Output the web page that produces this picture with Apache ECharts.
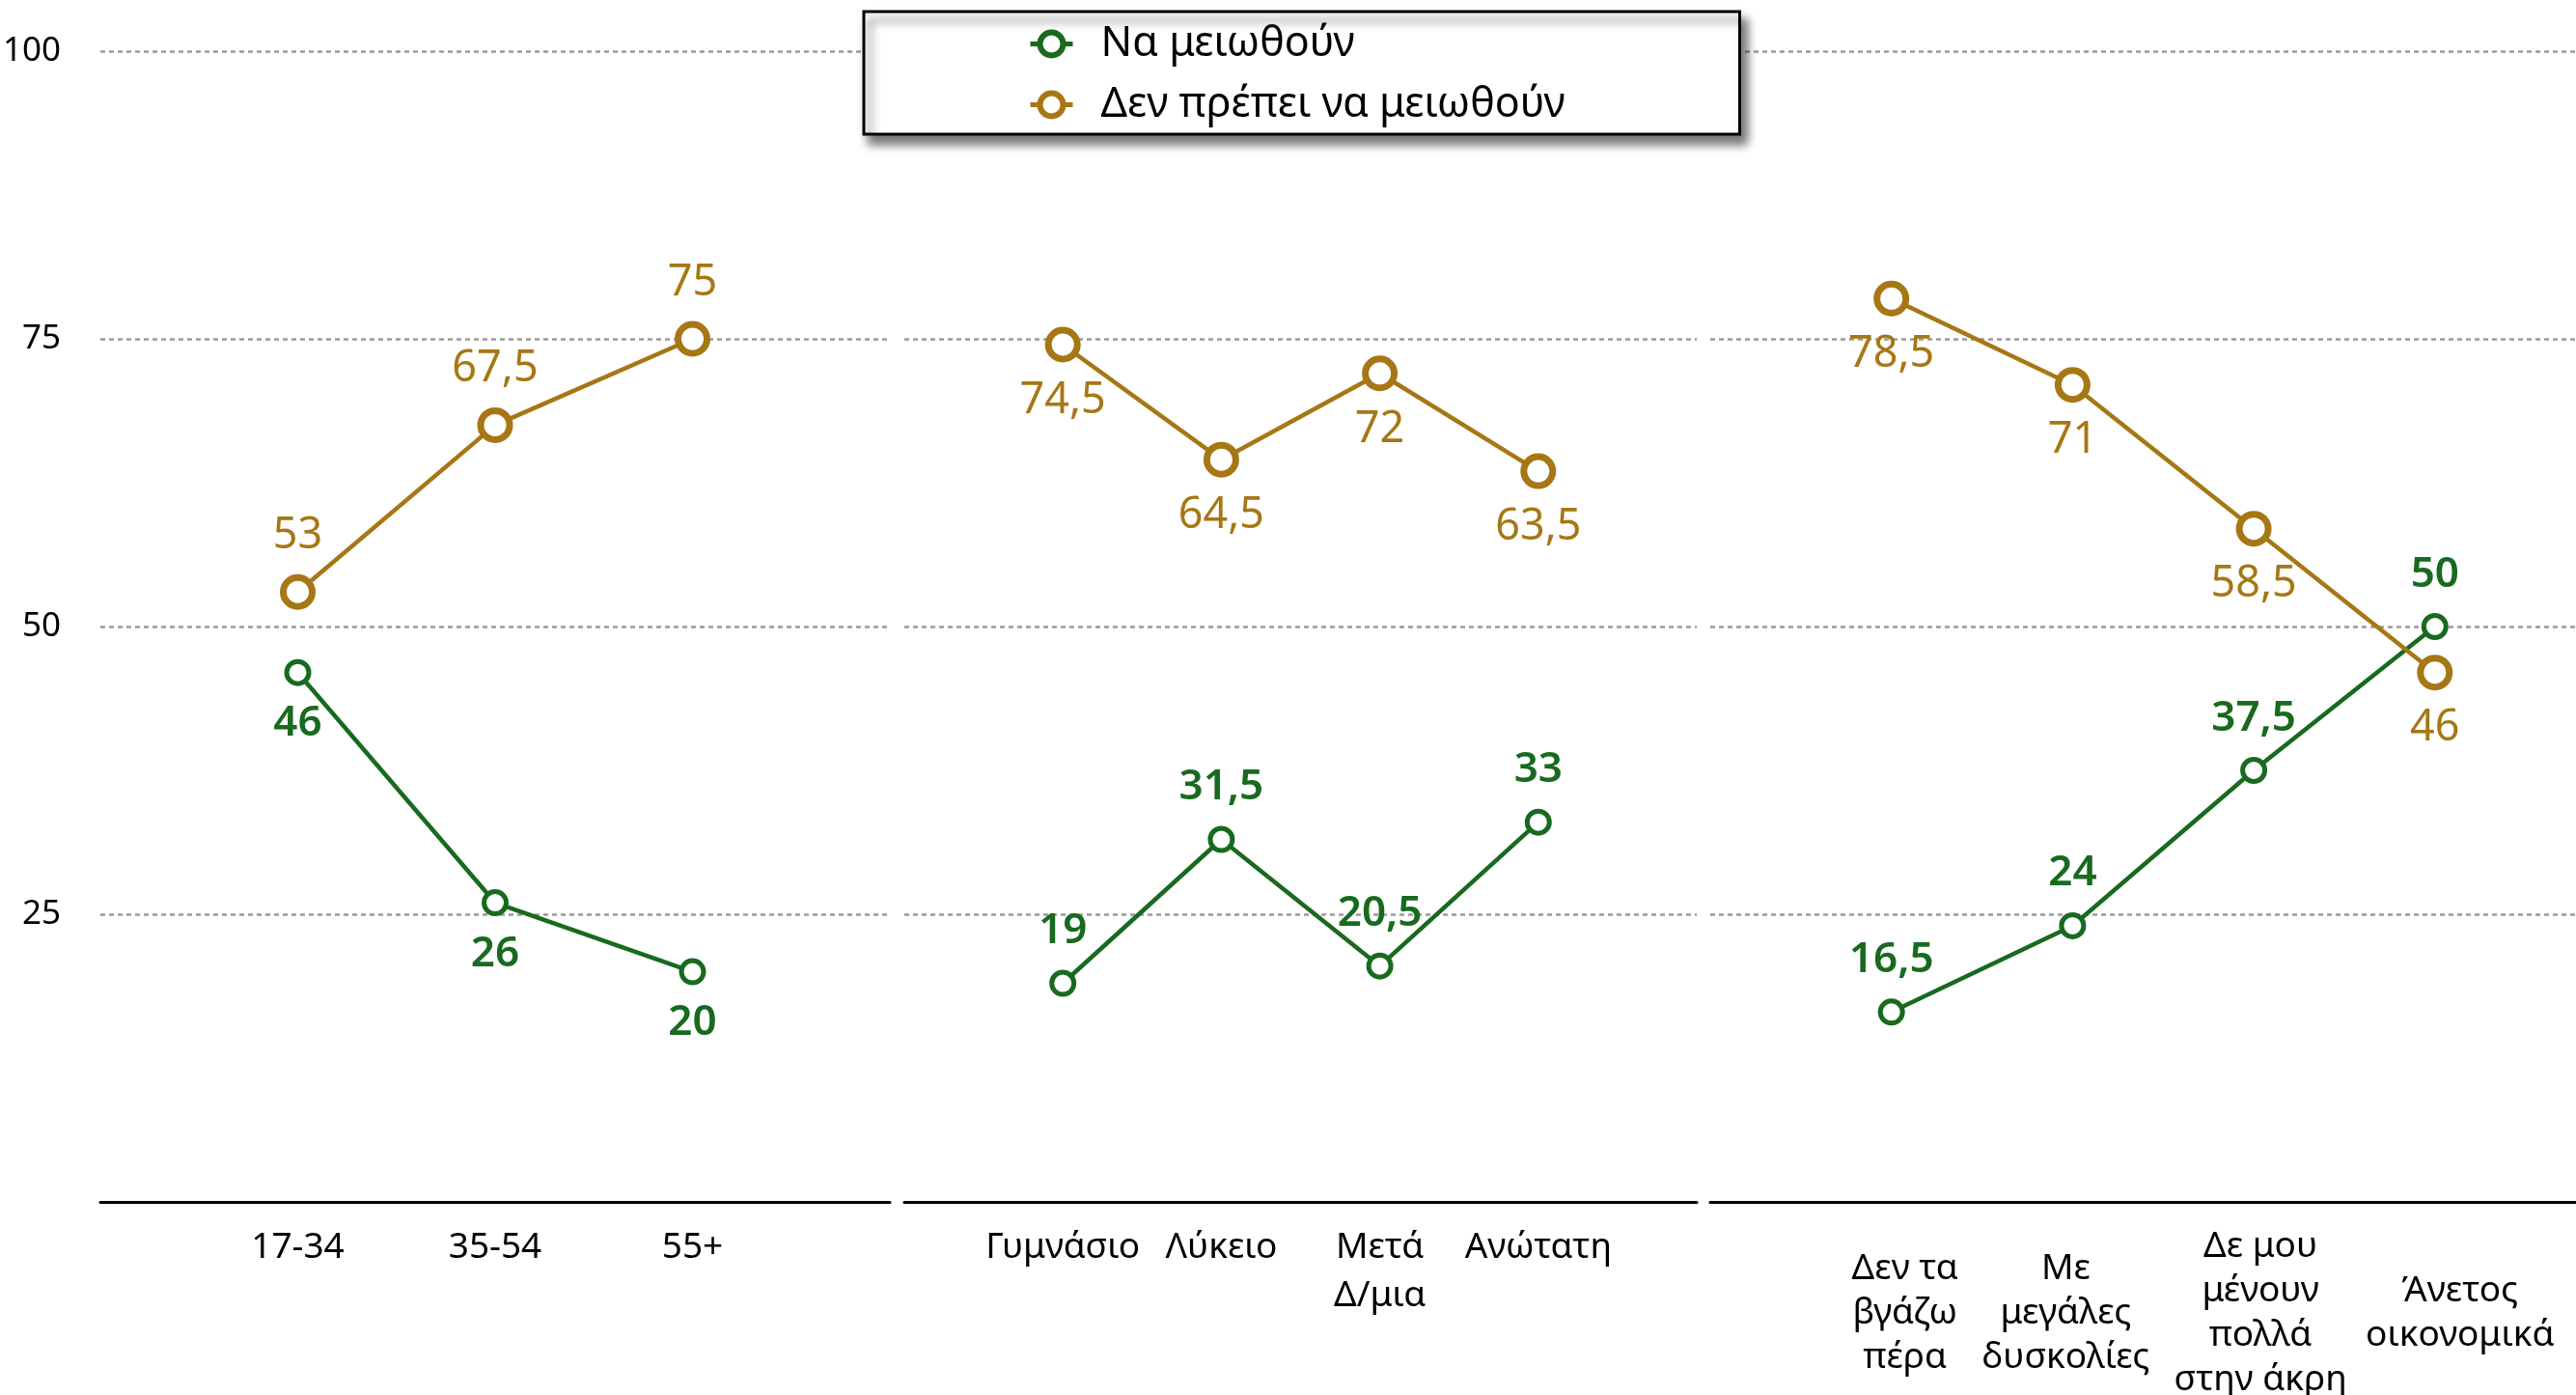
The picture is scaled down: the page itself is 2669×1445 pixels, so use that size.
<!DOCTYPE html>
<html><head><meta charset="utf-8">
<script src="https://cdn.jsdelivr.net/npm/echarts@6/dist/echarts.min.js"></script>
<style>html,body{margin:0;padding:0;background:#fff}#c{width:2669px;height:1445px}</style>
</head><body><div id="c"></div><script>
// ---- data ----
const seriesNames = ['Να μειωθούν', 'Δεν πρέπει να μειωθούν'];
const ageCats = ['17-34', '35-54', '55+'];
const ageReduce = [46, 26, 20];
const ageNotReduce = [53, 67.5, 75];
const eduCats = ['Γυμνάσιο', 'Λύκειο', 'Μετά\nΔ/μια', 'Ανώτατη'];
const eduReduce = [19, 31.5, 20.5, 33];
const eduNotReduce = [74.5, 64.5, 72, 63.5];
const incCats = ['Δεν τα\nβγάζω\nπέρα', 'Με\nμεγάλες\nδυσκολίες', 'Δε μου\nμένουν\nπολλά\nστην άκρη', 'Άνετος\nοικονομικά'];
const incReduce = [16.5, 24, 37.5, 50];
const incNotReduce = [78.5, 71, 58.5, 46];
const yMin = 0, yMax = 100, yStep = 25;

// ---- style ----
const FONT = '"Noto Sans", "DejaVu Sans", sans-serif';
const GREEN = '#186a1e';
const GOLD = '#a67714';
const incLabelShift = [14, -7, 7, 26]; // horizontal nudges of the income tick labels (px)
const pad = arr => [''].concat(arr, ['']);
const padV = arr => [null].concat(arr, [null]);
const fmt = p => String(p.value).replace('.', ',');

const gridTop = 53, gridBottom = 200;
const grids = [
  { left: 104, width: 818, top: gridTop, bottom: gridBottom, outerBoundsMode: 'none', containLabel: false },
  { left: 937, width: 821, top: gridTop, bottom: gridBottom, outerBoundsMode: 'none', containLabel: false },
  { left: 1772, width: 938.5, top: gridTop, bottom: gridBottom, outerBoundsMode: 'none', containLabel: false }
];
const panels = [
  { cats: ageCats, r: ageReduce, n: ageNotReduce, greenPos: 'bottom', goldPos: 'top', vAlign: 'top', margin: 22, lh: 50 },
  { cats: eduCats, r: eduReduce, n: eduNotReduce, greenPos: 'top', goldPos: 'bottom', vAlign: 'top', margin: 22, lh: 50 },
  { cats: incCats, r: incReduce, n: incNotReduce, greenPos: 'top', goldPos: 'bottom', vAlign: 'middle', margin: 115, lh: 46, shifts: incLabelShift }
];

const xAxis = [], yAxis = [], series = [];
panels.forEach((p, i) => {
  const labelStyle = { color: '#000', fontFamily: FONT, fontSize: 37, lineHeight: p.lh,
                       verticalAlign: p.vAlign, align: 'center' };
  const items = pad(p.cats).map((c, k) => {
    const s = p.shifts ? (p.shifts[k - 1] || 0) : 0;
    if (!s) return c;
    return { value: c, textStyle: Object.assign({}, labelStyle,
      { padding: s > 0 ? [0, 0, 0, 2 * s] : [0, -2 * s, 0, 0] }) };
  });
  xAxis.push({
    type: 'category', gridIndex: i, data: items, boundaryGap: false,
    axisLine: { show: true, lineStyle: { color: '#000', width: 3 } },
    axisTick: { show: false },
    axisLabel: Object.assign({ interval: 0, margin: p.margin }, labelStyle),
    splitLine: { show: false }
  });
  yAxis.push({
    type: 'value', gridIndex: i, min: yMin, max: yMax, interval: yStep,
    axisLine: { show: false }, axisTick: { show: false },
    axisLabel: { show: i === 0, color: '#000', fontFamily: FONT, fontSize: 35, margin: 41,
                 formatter: v => (v === yMin ? '' : String(v)) },
    splitLine: { show: true, lineStyle: { color: '#9a9a9a', width: 2.5, type: [5, 4] } }
  });
  series.push({
    name: seriesNames[0], type: 'line', xAxisIndex: i, yAxisIndex: i, data: padV(p.r),
    symbol: 'circle', symbolSize: 23, showAllSymbol: true,
    lineStyle: { color: GREEN, width: 4.5 },
    itemStyle: { color: '#fff', borderColor: GREEN, borderWidth: 5 },
    label: { show: true, position: p.greenPos, distance: p.greenPos === 'top' ? 18 : 17,
             color: GREEN, fontFamily: FONT, fontSize: 44, fontWeight: 600, formatter: fmt },
    emphasis: { disabled: true }, animation: false
  });
  series.push({
    name: seriesNames[1], type: 'line', xAxisIndex: i, yAxisIndex: i, data: padV(p.n),
    symbol: 'circle', symbolSize: 30, showAllSymbol: true,
    lineStyle: { color: GOLD, width: 4.5 },
    itemStyle: { color: '#fff', borderColor: GOLD, borderWidth: 7 },
    label: { show: true, position: p.goldPos, distance: 17,
             color: GOLD, fontFamily: FONT, fontSize: 45, formatter: fmt },
    emphasis: { disabled: true }, animation: false
  });
});

// legend box sizing
const LFS = 43;
const ctx = document.createElement('canvas').getContext('2d');
ctx.font = LFS + 'px ' + FONT;
const maxTextW = Math.max.apply(null, seriesNames.map(s => ctx.measureText(s).width));
const boxLeft = 895, boxRight = 1800, padL = 170, itemW = 44, txtPad = 24;
const padR = Math.max(10, (boxRight - boxLeft) - padL - itemW - 5 - txtPad - maxTextW);

const chart = echarts.init(document.getElementById('c'), null, { renderer: 'canvas' });
chart.setOption({
  animation: false,
  backgroundColor: '#fff',
  grid: grids,
  xAxis, yAxis, series,
  legend: {
    data: seriesNames, orient: 'vertical', left: boxLeft, top: 12,
    padding: [12, padR, 9, padL], itemGap: 20, itemWidth: itemW, itemHeight: 30,
    backgroundColor: '#fff', borderColor: '#000', borderWidth: 3,
    shadowColor: 'rgba(0,0,0,0.55)', shadowBlur: 10, shadowOffsetX: 6, shadowOffsetY: 9,
    itemStyle: { borderWidth: 6 },
    lineStyle: { width: 5 },
    textStyle: { color: '#000', fontFamily: FONT, fontSize: LFS, padding: [0, 0, 0, txtPad] },
    selectedMode: false
  }
});
</script></body></html>
